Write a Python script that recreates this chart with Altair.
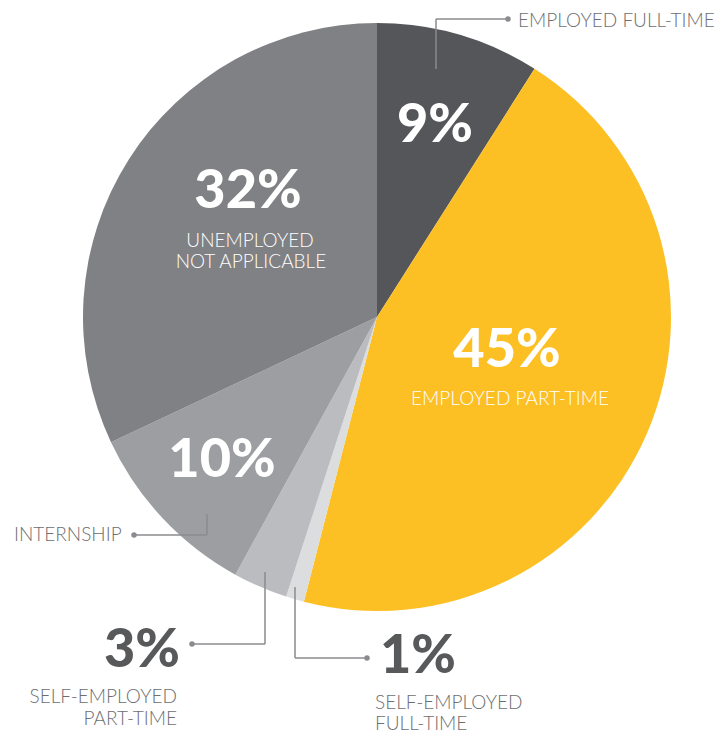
import altair as alt
import pandas as pd

W, H = 724, 737

# ---- data ----
categories = ["Employed full-time", "Employed part-time", "Self-employed full-time",
              "Self-employed part-time", "Internship", "Unemployed / not applicable"]
values = [9, 45, 1, 3, 10, 32]
colors = ["#55565a", "#fcc024", "#dcdddf", "#bbbcbf", "#9d9ea1", "#808184"]

pct_labels = ["9%", "45%", "1%", "3%", "10%", "32%"]

# ---- annotation layout (positions in page pixels) ----
big_text = pd.DataFrame({
    "text": ["9%", "45%", "32%", "10%"],
    "x": [435, 507, 248, 222],
    "y": [142, 367, 208, 477],
})
big_out_right = pd.DataFrame({"text": ["3%"], "x": [180], "y": [667]})
big_out_left = pd.DataFrame({"text": ["1%"], "x": [380], "y": [673]})

small_in = pd.DataFrame({
    "text": ["EMPLOYED PART-TIME", "UNEMPLOYED", "NOT APPLICABLE"],
    "x": [510, 250, 251],
    "y": [405, 247, 268],
})
small_out_left = pd.DataFrame({
    "text": ["EMPLOYED FULL-TIME", "INTERNSHIP", "SELF-EMPLOYED", "FULL-TIME"],
    "x": [518, 14, 375, 375],
    "y": [27, 541, 709, 730],
})
small_out_right = pd.DataFrame({
    "text": ["SELF-EMPLOYED", "PART-TIME"],
    "x": [177, 177],
    "y": [703, 725],
})

seg_x = [508, 436, 134, 207, 192, 265, 367, 295]
seg_y = [19, 19, 535, 535, 644, 644, 658, 658]
seg_x2 = [436, 436, 207, 207, 265, 265, 295, 295]
seg_y2 = [19, 69, 535, 514, 644, 572, 658, 587]
segments = pd.DataFrame({"x": seg_x, "y": seg_y, "x2": seg_x2, "y2": seg_y2})

dots = pd.DataFrame({"x": [508, 134, 192, 367], "y": [19, 535, 644, 658]})

pie_df = pd.DataFrame({"category": categories, "value": values,
                       "idx": list(range(len(values))), "label": pct_labels})

xs = alt.Scale(domain=[0, W], nice=False, zero=False)
ys = alt.Scale(domain=[0, H], nice=False, zero=False, reverse=True)

pie = alt.Chart(pie_df).mark_arc(outerRadius=294, strokeWidth=0).encode(
    theta=alt.Theta("value:Q", stack=True),
    order=alt.Order("idx:Q"),
    color=alt.Color("category:N", scale=alt.Scale(domain=categories, range=colors), legend=None),
    x=alt.value(377),
    y=alt.value(317),
)


def text_layer(df, align, color, size, weight):
    return alt.Chart(df).mark_text(
        align=align, baseline="alphabetic", font="Lato", fontSize=size,
        fontWeight=weight, color=color,
    ).encode(
        x=alt.X("x:Q", scale=xs, axis=None),
        y=alt.Y("y:Q", scale=ys, axis=None),
        text="text:N",
    )


rules = alt.Chart(segments).mark_rule(color="#8a8b8e", strokeWidth=1.5).encode(
    x=alt.X("x:Q", scale=xs, axis=None), y=alt.Y("y:Q", scale=ys, axis=None),
    x2="x2:Q", y2="y2:Q",
)
dot_layer = alt.Chart(dots).mark_point(filled=True, size=30, color="#8a8b8e", opacity=1).encode(
    x=alt.X("x:Q", scale=xs, axis=None), y=alt.Y("y:Q", scale=ys, axis=None),
)

chart = alt.layer(
    pie,
    rules,
    dot_layer,
    text_layer(big_text, "center", "white", 54, 900),
    text_layer(big_out_right, "right", "#58595b", 54, 900),
    text_layer(big_out_left, "left", "#58595b", 54, 900),
    text_layer(small_in, "center", "white", 19, 300),
    text_layer(small_out_left, "left", "#6d6e71", 19, 300),
    text_layer(small_out_right, "right", "#6d6e71", 19, 300),
).properties(
    width=W, height=H, padding=0, autosize=alt.AutoSizeParams(type="none"),
    background="white",
).configure_view(stroke=None)

chart.save("out.html", embed_options={"renderer": "svg", "actions": False})
